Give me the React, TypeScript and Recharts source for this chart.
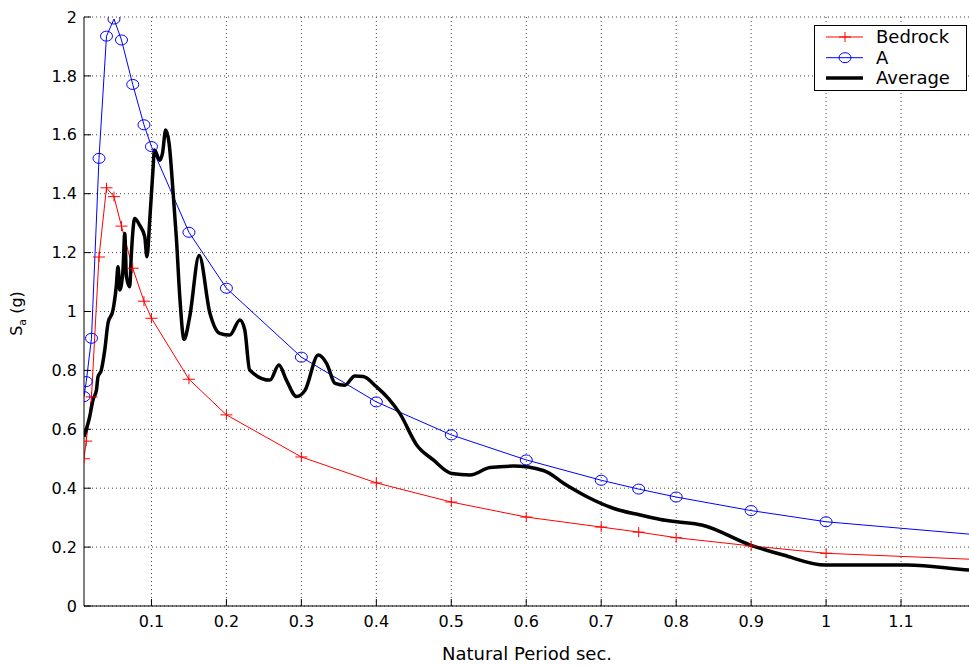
import React from 'react';
import { LineChart, Line, XAxis, YAxis, CartesianGrid, Legend } from 'recharts';

// Natural period (sec) and spectral acceleration Sa (g)
const bedrockPeriod = [0.01, 0.013, 0.02, 0.03, 0.04, 0.05, 0.06, 0.075, 0.09, 0.1, 0.15, 0.2, 0.3, 0.4, 0.5, 0.6, 0.7, 0.75, 0.8, 0.9, 1.0, 1.2];
const bedrockSa = [0.5, 0.56, 0.71, 1.185, 1.42, 1.39, 1.29, 1.147, 1.035, 0.977, 0.77, 0.649, 0.506, 0.418, 0.353, 0.302, 0.268, 0.251, 0.232, 0.204, 0.179, 0.158];

const aPeriod = [0.01, 0.013, 0.02, 0.03, 0.04, 0.05, 0.06, 0.075, 0.09, 0.1, 0.15, 0.2, 0.3, 0.4, 0.5, 0.6, 0.7, 0.75, 0.8, 0.9, 1.0, 1.2];
const aSa = [0.711, 0.762, 0.909, 1.52, 1.935, 1.993, 1.922, 1.771, 1.634, 1.56, 1.269, 1.079, 0.845, 0.693, 0.581, 0.496, 0.427, 0.397, 0.37, 0.324, 0.286, 0.242];

const avgPeriod = [
  0.01, 0.0176, 0.022, 0.0266, 0.0287, 0.033, 0.0377, 0.042, 0.0487, 0.053, 0.0554, 0.0577, 0.062, 0.0644, 0.0666,
  0.071, 0.073, 0.0777, 0.084, 0.091, 0.094, 0.0977, 0.102, 0.104, 0.111, 0.1147, 0.119, 0.1235, 0.129, 0.1334,
  0.1378, 0.1435, 0.151, 0.1636, 0.178, 0.191, 0.2045, 0.218, 0.2245, 0.231, 0.258, 0.27, 0.28, 0.2936, 0.305,
  0.3225, 0.3336, 0.345, 0.358, 0.3713, 0.3825, 0.4, 0.416, 0.4313, 0.4538, 0.476, 0.5005, 0.525, 0.5517, 0.5828,
  0.6228, 0.654, 0.681, 0.716, 0.752, 0.779, 0.801, 0.834, 0.899, 0.943, 0.999, 1.055, 1.108, 1.19, 1.2,
];
const avgSa = [
  0.575, 0.643, 0.7, 0.733, 0.779, 0.8, 0.869, 0.96, 1.005, 1.084, 1.152, 1.073, 1.141, 1.265, 1.118,
  1.084, 1.186, 1.316, 1.294, 1.254, 1.186, 1.31, 1.48, 1.548, 1.514, 1.537, 1.616, 1.571, 1.4, 1.243,
  1.05, 0.905, 0.982, 1.19, 0.994, 0.926, 0.92, 0.971, 0.937, 0.801, 0.767, 0.818, 0.767, 0.711, 0.733,
  0.852, 0.824, 0.756, 0.75, 0.781, 0.779, 0.745, 0.705, 0.654, 0.547, 0.496, 0.45, 0.445, 0.47, 0.475,
  0.46, 0.41, 0.371, 0.332, 0.309, 0.294, 0.286, 0.275, 0.207, 0.173, 0.139, 0.139, 0.139, 0.122, 0.12,
];

const xTicks = [0.1, 0.2, 0.3, 0.4, 0.5, 0.6, 0.7, 0.8, 0.9, 1.0, 1.1];
const yTicks = [0, 0.2, 0.4, 0.6, 0.8, 1.0, 1.2, 1.4, 1.6, 1.8, 2.0];
const seriesNames = ['Bedrock', 'A', 'Average'];
const xLabel = 'Natural Period sec.';

const bedrockData = bedrockPeriod.map((t, i) => ({ t, v: bedrockSa[i] }));
const aData = aPeriod.map((t, i) => ({ t, v: aSa[i] }));
const avgData = avgPeriod.map((t, i) => ({ t, v: avgSa[i] }));

const FONT = '"DejaVu Sans", "Liberation Sans", Arial, sans-serif';
const RED = '#ff0000';
const BLUE = '#0000ff';

const fmt = (v: number) => {
  if (v === 0) return '0';
  if (Number.isInteger(v)) return String(v);
  return String(Math.round(v * 10) / 10);
};

const PlusDot = (p: any) => {
  const { cx, cy } = p;
  if (cx == null || cy == null) return <g key={`p-${p.index}`} />;
  return (
    <g key={`p-${p.index}`}>
      <line x1={cx - 6} x2={cx + 6} y1={cy} y2={cy} stroke={RED} strokeWidth={1} />
      <line x1={cx} x2={cx} y1={cy - 5} y2={cy + 5} stroke={RED} strokeWidth={1} />
    </g>
  );
};

const CircleDot = (p: any) => {
  const { cx, cy } = p;
  if (cx == null || cy == null) return <g key={`c-${p.index}`} />;
  return <ellipse key={`c-${p.index}`} cx={cx} cy={cy} rx={6} ry={5} fill="none" stroke={BLUE} strokeWidth={1} />;
};

const YLabel = (props: any) => {
  const vb = props.viewBox || { x: 0, y: 17, width: 84, height: 589 };
  const x = vb.x + 22;
  const y = vb.y + vb.height / 2 + 2;
  return (
    <text
      x={x}
      y={y}
      transform={`rotate(-90, ${x}, ${y})`}
      textAnchor="middle"
      fontFamily={FONT}
      fontSize={16}
      fill="#000"
    >
      S<tspan fontSize={11} dy={4}>a</tspan>
      <tspan dy={-4}> (g)</tspan>
    </text>
  );
};

const XLabel = (props: any) => {
  const vb = props.viewBox || { x: 84, y: 606, width: 892, height: 30 };
  return (
    <text x={vb.x + vb.width / 2 - 3} y={vb.y + 54} textAnchor="middle" fontFamily={FONT} fontSize={18} fill="#000">
      {xLabel}
    </text>
  );
};

const LegendBox = () => {
  const rows = [12, 32.7, 53];
  return (
    <svg width={154} height={67} style={{ display: 'block' }}>
      <rect x={0.5} y={0.5} width={152} height={65} fill="#fff" stroke="#000" strokeWidth={1} />
      <line x1={12} x2={49} y1={rows[0]} y2={rows[0]} stroke={RED} strokeWidth={1} />
      <line x1={25} x2={37} y1={rows[0]} y2={rows[0]} stroke={RED} strokeWidth={1} />
      <line x1={31} x2={31} y1={rows[0] - 5} y2={rows[0] + 5} stroke={RED} strokeWidth={1} />
      <line x1={12} x2={49} y1={rows[1]} y2={rows[1]} stroke={BLUE} strokeWidth={1} />
      <ellipse cx={31} cy={rows[1]} rx={6} ry={5} fill="none" stroke={BLUE} strokeWidth={1} />
      <line x1={12} x2={49} y1={rows[2]} y2={rows[2]} stroke="#000" strokeWidth={3.5} />
      {seriesNames.map((n, i) => (
        <text key={n} x={62} y={rows[i] + 6.3} fontFamily={FONT} fontSize={18} fill="#000">
          {n}
        </text>
      ))}
    </svg>
  );
};

export default function App() {
  const tickStyle = { fontFamily: FONT, fontSize: 16, fill: '#000' };
  return (
    <div style={{ position: 'absolute', left: 0, top: 0, width: 969, height: 666, overflow: 'hidden', background: '#fff' }}>
      <LineChart width={990} height={666} margin={{ top: 17, right: 14, bottom: 30, left: 0 }}>
        <CartesianGrid
          xAxisId="bottom"
          stroke="#444"
          strokeDasharray="1 3"
          horizontalValues={yTicks}
          verticalValues={xTicks}
        />
        <XAxis
          xAxisId="bottom"
          type="number"
          dataKey="t"
          domain={[0.01, 1.2]}
          allowDataOverflow
          ticks={xTicks}
          tickFormatter={fmt}
          height={30}
          tickSize={-7}
          tickMargin={17}
          tick={tickStyle}
          axisLine={{ stroke: '#000' }}
          tickLine={{ stroke: '#000' }}
          label={<XLabel />}
        />
        <XAxis
          xAxisId="top"
          orientation="top"
          type="number"
          dataKey="t"
          domain={[0.01, 1.2]}
          allowDataOverflow
          ticks={xTicks}
          height={0}
          tickSize={-7}
          tick={false}
          axisLine={{ stroke: '#000' }}
          tickLine={{ stroke: '#000' }}
        />
        <YAxis
          type="number"
          domain={[0, 2]}
          allowDataOverflow
          ticks={yTicks}
          tickFormatter={fmt}
          width={84}
          tickSize={-7}
          tickMargin={14}
          tick={tickStyle}
          axisLine={{ stroke: '#000' }}
          tickLine={{ stroke: '#000' }}
          label={<YLabel />}
        />
        <Legend
          layout="vertical"
          align="center"
          verticalAlign="middle"
          content={() => <LegendBox />}
          wrapperStyle={{ position: 'absolute', left: 814, top: 25, width: 154, height: 67 }}
        />
        <Line
          xAxisId="bottom"
          data={bedrockData}
          dataKey="v"
          name="Bedrock"
          type="linear"
          stroke={RED}
          strokeWidth={1}
          dot={PlusDot}
          activeDot={false}
          isAnimationActive={false}
        />
        <Line
          xAxisId="bottom"
          data={aData}
          dataKey="v"
          name="A"
          type="linear"
          stroke={BLUE}
          strokeWidth={1}
          dot={CircleDot}
          activeDot={false}
          isAnimationActive={false}
        />
        <Line
          xAxisId="bottom"
          data={avgData}
          dataKey="v"
          name="Average"
          type="monotone"
          stroke="#000"
          strokeWidth={3.5}
          dot={false}
          activeDot={false}
          isAnimationActive={false}
        />
      </LineChart>
    </div>
  );
}
